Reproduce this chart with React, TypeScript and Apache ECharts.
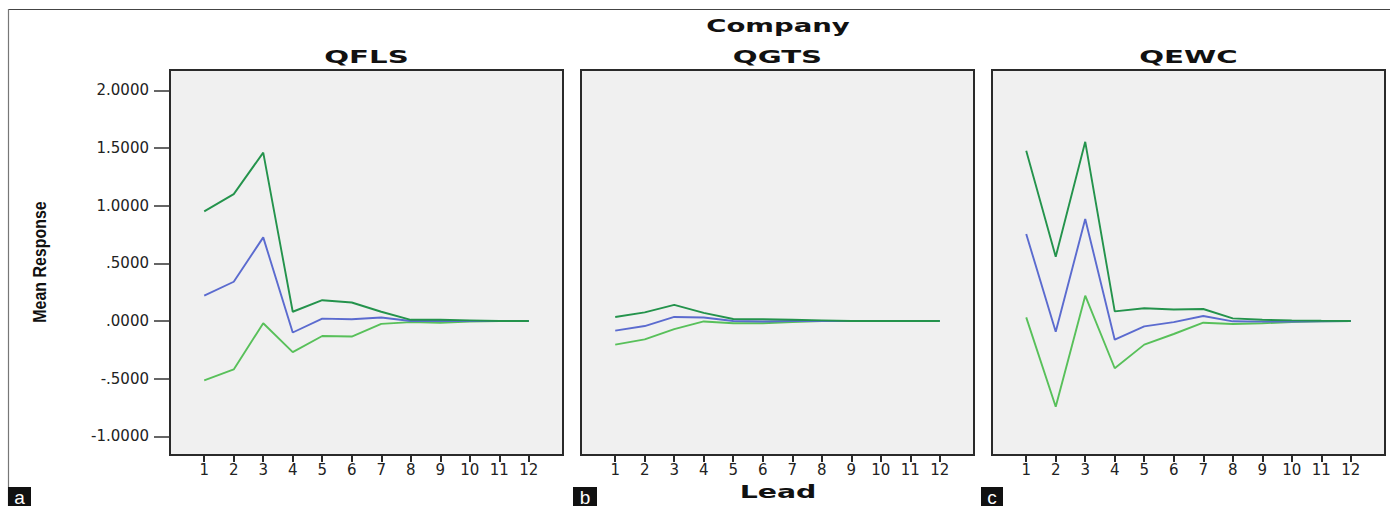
import React, { useEffect, useRef } from "react";
import * as echarts from "echarts";

const leads = [1, 2, 3, 4, 5, 6, 7, 8, 9, 10, 11, 12];
const yTicks = [-1, -0.5, 0, 0.5, 1, 1.5, 2];
const companies = ["QFLS", "QGTS", "QEWC"];
const panelTags = ["a", "b", "c"];

const upperQFLS = [0.95, 1.1, 1.46, 0.08, 0.18, 0.16, 0.08, 0.01, 0.01, 0.005, 0.0, 0.0];
const meanQFLS = [0.22, 0.34, 0.725, -0.1, 0.02, 0.015, 0.03, 0.0, 0.0, 0.0, 0.0, 0.0];
const lowerQFLS = [-0.515, -0.42, -0.02, -0.27, -0.13, -0.135, -0.025, -0.01, -0.015, -0.005, 0.0, 0.0];

const upperQGTS = [0.035, 0.075, 0.14, 0.07, 0.017, 0.015, 0.01, 0.005, 0.0, 0.0, 0.0, 0.0];
const meanQGTS = [-0.084, -0.044, 0.035, 0.03, 0.0, -0.005, 0.0, 0.0, 0.0, 0.0, 0.0, 0.0];
const lowerQGTS = [-0.205, -0.16, -0.07, -0.004, -0.02, -0.02, -0.01, 0.0, 0.0, 0.0, 0.0, 0.0];

const upperQEWC = [1.475, 0.557, 1.553, 0.083, 0.11, 0.1, 0.104, 0.023, 0.01, 0.005, 0.002, 0.0];
const meanQEWC = [0.754, -0.093, 0.884, -0.162, -0.047, -0.01, 0.043, -0.003, -0.006, -0.004, -0.002, 0.0];
const lowerQEWC = [0.031, -0.743, 0.219, -0.41, -0.205, -0.113, -0.015, -0.026, -0.02, -0.01, -0.003, 0.0];

const upperSets = [upperQFLS, upperQGTS, upperQEWC];
const meanSets = [meanQFLS, meanQGTS, meanQEWC];
const lowerSets = [lowerQFLS, lowerQGTS, lowerQEWC];

const UPPER_COLOR = "#24934c";
const MEAN_COLOR = "#5b6bcf";
const LOWER_COLOR = "#58c05a";

const GRID_LEFTS = [170, 581, 992];
const GRID_TOP = 70;
const GRID_W = 393;
const GRID_H = 385;

const fmtY = (v: number) => {
  let s = v.toFixed(4);
  s = s.replace(/^0\./, ".").replace(/^-0\./, "-.");
  return s;
};

function buildOption() {
  const grids = GRID_LEFTS.map((left) => ({
    left,
    top: GRID_TOP,
    width: GRID_W,
    height: GRID_H,
    show: true,
    backgroundColor: "#f0f0f0",
    borderColor: "#2a2a2a",
    borderWidth: 2,
  }));

  const xAxes = GRID_LEFTS.map((_, i) => ({
    type: "value",
    gridIndex: i,
    min: -0.16,
    max: 13.16,
    splitLine: { show: false },
    axisLine: { show: true, onZero: false, lineStyle: { color: "#2a2a2a", width: 2 } },
    axisTick: {
      show: true,
      customValues: leads,
      length: 7,
      lineStyle: { color: "#2a2a2a", width: 2 },
    },
    axisLabel: {
      show: true,
      customValues: leads,
      margin: 7,
      fontFamily: "DejaVu Sans",
      fontSize: 15,
      color: "#222",
    },
  }));

  const yAxes = GRID_LEFTS.map((_, i) => ({
    type: "value",
    gridIndex: i,
    min: -1.162,
    max: 2.176,
    splitLine: { show: false },
    axisLine: { show: i === 0, onZero: false, lineStyle: { color: "#2a2a2a", width: 2 } },
    axisTick: {
      show: i === 0,
      customValues: yTicks,
      length: 16,
      lineStyle: { color: "#333", width: 1.5 },
    },
    axisLabel: {
      show: i === 0,
      customValues: yTicks,
      margin: 21,
      formatter: fmtY,
      fontFamily: "DejaVu Sans",
      fontSize: 15,
      color: "#222",
    },
  }));

  const series: any[] = [];
  companies.forEach((name, i) => {
    const mk = (label: string, arr: number[], color: string) => ({
      name: `${name} ${label}`,
      type: "line",
      xAxisIndex: i,
      yAxisIndex: i,
      data: leads.map((l, j) => [l, arr[j]]),
      showSymbol: false,
      symbol: "none",
      lineStyle: { color, width: 1.9 },
      itemStyle: { color },
      silent: true,
    });
    series.push(mk("lower", lowerSets[i], LOWER_COLOR));
    series.push(mk("mean", meanSets[i], MEAN_COLOR));
    series.push(mk("upper", upperSets[i], UPPER_COLOR));
  });

  const boldWide = {
    fontFamily: "DejaVu Sans",
    fontWeight: "bold",
    fontSize: 17,
    fill: "#111",
    align: "center",
    verticalAlign: "middle",
    textAlign: "center",
    textVerticalAlign: "middle",
  };

  const graphic: any[] = [
    { type: "line", shape: { x1: 8, y1: 9.5, x2: 1390, y2: 9.5 }, style: { stroke: "#444", lineWidth: 1.2 } },
    { type: "line", shape: { x1: 8.5, y1: 9, x2: 8.5, y2: 506 }, style: { stroke: "#777", lineWidth: 1.2 } },
    { type: "text", x: 778, y: 26.5, scaleX: 1.62, style: { ...boldWide, text: "Company" } },
    { type: "text", x: 778, y: 492, scaleX: 1.67, style: { ...boldWide, text: "Lead" } },
    {
      type: "text",
      x: 40,
      y: 262,
      rotation: Math.PI / 2,
      scaleX: 0.84,
      style: {
        text: "Mean Response",
        fontFamily: "Liberation Sans",
        fontWeight: "bold",
        fontSize: 19,
        fill: "#111",
        align: "center",
        verticalAlign: "middle",
        textAlign: "center",
        textVerticalAlign: "middle",
      },
    },
  ];

  companies.forEach((name, i) => {
    graphic.push({
      type: "text",
      x: GRID_LEFTS[i] + GRID_W / 2,
      y: 57,
      scaleX: 1.72,
      style: { ...boldWide, text: name },
    });
  });

  const tagBoxes = [
    { x: 8, w: 23 },
    { x: 573, w: 24 },
    { x: 981, w: 22 },
  ];
  panelTags.forEach((t, i) => {
    const b = tagBoxes[i];
    graphic.push({ type: "rect", shape: { x: b.x, y: 487, width: b.w, height: 19 }, style: { fill: "#111" } });
    graphic.push({
      type: "text",
      x: b.x + b.w / 2,
      y: 497,
      style: {
        text: t,
        fontFamily: "Liberation Sans",
        fontSize: 19,
        fill: "#fff",
        align: "center",
        verticalAlign: "middle",
        textAlign: "center",
        textVerticalAlign: "middle",
      },
    });
  });

  return {
    animation: false,
    backgroundColor: "#ffffff",
    grid: grids,
    xAxis: xAxes,
    yAxis: yAxes,
    series,
    graphic,
  };
}

export default function App() {
  const ref = useRef<HTMLDivElement>(null);
  useEffect(() => {
    if (!ref.current) return;
    const chart = echarts.init(ref.current, undefined, { renderer: "svg" });
    chart.setOption(buildOption() as any);
    return () => chart.dispose();
  }, []);
  return (
    <div
      ref={ref}
      style={{ position: "fixed", left: 0, top: 0, width: 1390, height: 506, background: "#fff" }}
    />
  );
}
